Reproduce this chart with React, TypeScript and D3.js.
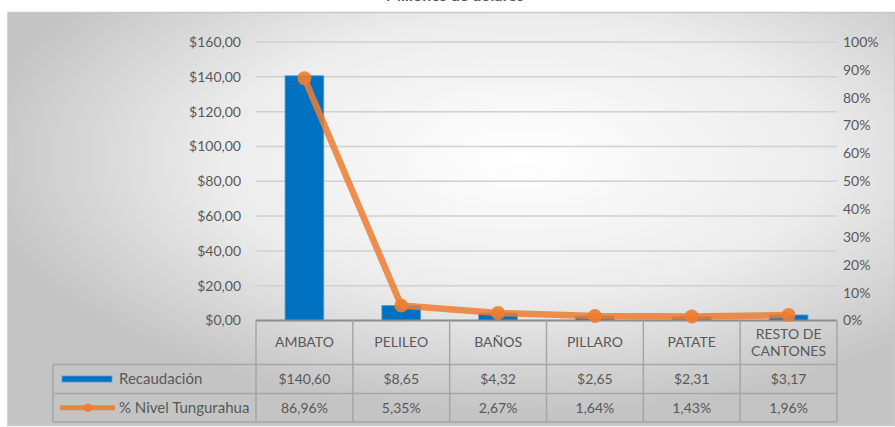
import * as d3 from 'd3';

const categories = ['AMBATO', 'PELILEO', 'BAÑOS', 'PILLARO', 'PATATE', 'RESTO DE CANTONES'];
const recaudacion = [140.6, 8.65, 4.32, 2.65, 2.31, 3.17];
const nivel = [86.96, 5.35, 2.67, 1.64, 1.43, 1.96];
const leftTicks = [0, 20, 40, 60, 80, 100, 120, 140, 160];
const rightTicks = [0, 10, 20, 30, 40, 50, 60, 70, 80, 90, 100];
const seriesNames = ['Recaudación', '% Nivel Tungurahua'];

const W = 895;
const H = 427;
const FONT = 'Lato, "Open Sans", sans-serif';
const TXT = '#595959';
const BLUE = '#0070C0';
const ORANGE = '#ED7D31';
const BORDER = '#a6a6a6';

const locale = d3.formatLocale({ decimal: ',', thousands: '.', grouping: [3], currency: ['$', ''] });
const money = locale.format('$.2f');
const pctFmt = (v: number) => locale.format('.2f')(v) + '%';

export default function App() {
  const plot = { left: 256, right: 837, top: 42, bottom: 320.5 };
  const x = d3.scaleBand<string>().domain(categories).range([plot.left, plot.right]).paddingInner(0).paddingOuter(0);
  const yL = d3.scaleLinear().domain([0, 160]).range([plot.bottom, plot.top]);
  const yR = d3.scaleLinear().domain([0, 100]).range([plot.bottom, plot.top]);
  const bw = x.bandwidth() * 0.4;
  const cx = (c: string) => (x(c) ?? 0) + x.bandwidth() / 2;

  const line = d3.line<number>()
    .x((_, i) => cx(categories[i]))
    .y(d => yR(d));

  const rowY = [plot.bottom, 364.5, 393.5, 422];
  const legendX = 53;
  const fs = 14;

  return (
    <svg width={W} height={H} style={{ position: 'absolute', left: 0, top: 0, fontFamily: FONT }}>
      <defs>
        <radialGradient id="bg" cx="58%" cy="35%" r="62%" gradientUnits="objectBoundingBox">
          <stop offset="0" stopColor="#ffffff" />
          <stop offset="0.55" stopColor="#ececec" />
          <stop offset="1" stopColor="#c4c4c4" />
        </radialGradient>
      </defs>
      <rect x={0} y={0} width={W} height={H} fill="#fff" />
      {/* title sits above the frame and is mostly cut off, as in the original */}
      <text x={455} y={0.5} textAnchor="middle" fontSize={16} fontWeight="bold" fill={TXT}>Millones de dólares</text>
      <rect x={8} y={12.5} width={W - 8} height={H - 14} fill="url(#bg)" stroke="#c8c8c8" strokeWidth={1.5} />

      {/* gridlines */}
      {leftTicks.map(t => (
        <line key={'g' + t} x1={plot.left} x2={plot.right} y1={yL(t)} y2={yL(t)} stroke="#d0d0d0" strokeWidth={1.5} />
      ))}
      {leftTicks.map(t => (
        <text key={'l' + t} x={241} y={yL(t)} dy="0.35em" textAnchor="end" fontSize={fs} fill={TXT}>{money(t)}</text>
      ))}
      {rightTicks.map(t => (
        <text key={'r' + t} x={843} y={yR(t)} dy="0.35em" textAnchor="start" fontSize={fs} fill={TXT}>{t + '%'}</text>
      ))}

      {/* bars */}
      {recaudacion.map((v, i) => (
        <rect key={'b' + i} x={cx(categories[i]) - bw / 2} y={yL(v)} width={bw} height={yL(0) - yL(v)}
          fill={BLUE} stroke="#5b9bd5" strokeWidth={0.8} />
      ))}

      {/* table */}
      <g stroke={BORDER} strokeWidth={1.5} fill="none">
        <line x1={plot.left} x2={plot.right} y1={rowY[0]} y2={rowY[0]} stroke="#8c8c8c" strokeWidth={2} />
        <line x1={legendX} x2={plot.right} y1={rowY[1]} y2={rowY[1]} />
        <line x1={legendX} x2={plot.right} y1={rowY[2]} y2={rowY[2]} />
        <line x1={legendX} x2={plot.right} y1={rowY[3]} y2={rowY[3]} />
        <line x1={legendX} x2={legendX} y1={rowY[1]} y2={rowY[3]} />
        {categories.map(c => (
          <line key={'v' + c} x1={x(c)} x2={x(c)} y1={rowY[0]} y2={rowY[3]} />
        ))}
        <line x1={plot.right} x2={plot.right} y1={rowY[0]} y2={rowY[3]} />
      </g>
      {categories.map(c => {
        const words = c === 'RESTO DE CANTONES' ? ['RESTO DE', 'CANTONES'] : [c];
        const mid = (rowY[0] + rowY[1]) / 2;
        return (
          <text key={'c' + c} x={cx(c)} y={mid} textAnchor="middle" fontSize={fs} fill={TXT}>
            {words.map((w, j) => (
              <tspan key={j} x={cx(c)} y={mid + (j - (words.length - 1) / 2) * 17} dy="0.35em">{w}</tspan>
            ))}
          </text>
        );
      })}
      {recaudacion.map((v, i) => (
        <text key={'tv' + i} x={cx(categories[i])} y={(rowY[1] + rowY[2]) / 2} dy="0.35em" textAnchor="middle" fontSize={fs} fill={TXT}>{money(v)}</text>
      ))}
      {nivel.map((v, i) => (
        <text key={'tp' + i} x={cx(categories[i])} y={(rowY[2] + rowY[3]) / 2} dy="0.35em" textAnchor="middle" fontSize={fs} fill={TXT}>{pctFmt(v)}</text>
      ))}

      {/* legend keys */}
      <rect x={62} y={(rowY[1] + rowY[2]) / 2 - 3} width={50} height={6} fill={BLUE} stroke="#5b9bd5" strokeWidth={0.8} />
      <text x={119} y={(rowY[1] + rowY[2]) / 2} dy="0.35em" fontSize={15} fill={TXT}>{seriesNames[0]}</text>
      <line x1={60} x2={115} y1={(rowY[2] + rowY[3]) / 2} y2={(rowY[2] + rowY[3]) / 2} stroke={ORANGE} strokeOpacity={0.85} strokeWidth={5} />
      <circle cx={88} cy={(rowY[2] + rowY[3]) / 2} r={4} fill={ORANGE} />
      <text x={119} y={(rowY[2] + rowY[3]) / 2} dy="0.35em" fontSize={15} fill={TXT}>{seriesNames[1]}</text>

      {/* line series */}
      <path d={line(nivel) ?? ''} fill="none" stroke={ORANGE} strokeOpacity={0.85} strokeWidth={6.5} strokeLinejoin="round" />
      {nivel.map((v, i) => (
        <circle key={'m' + i} cx={cx(categories[i])} cy={yR(v)} r={7} fill={ORANGE} fillOpacity={0.9} />
      ))}
    </svg>
  );
}
